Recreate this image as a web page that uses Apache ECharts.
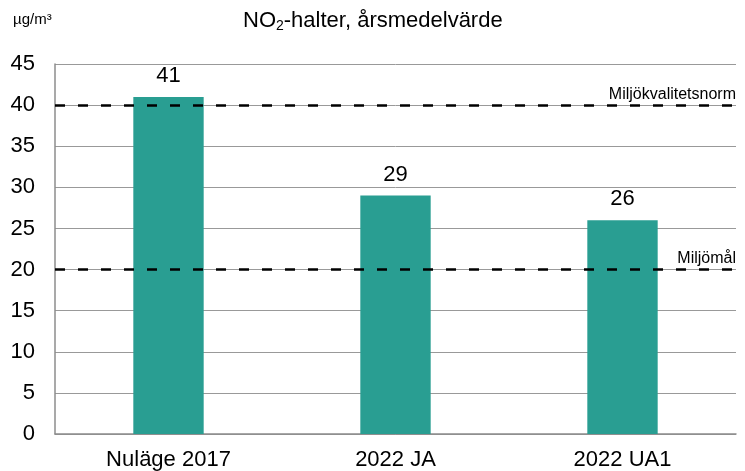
<!DOCTYPE html>
<html>
<head>
<meta charset="utf-8">
<script src="https://cdn.jsdelivr.net/npm/echarts@6/dist/echarts.min.js"></script>
<style>html,body{margin:0;padding:0;background:#fff}#c{width:745px;height:471px}</style>
</head>
<body>
<div id="c"></div>
<script>
const categories = ['Nuläge 2017', '2022 JA', '2022 UA1'];
const values = [41, 29, 26];
const refLines = [
  { name: 'Miljökvalitetsnorm', value: 40 },
  { name: 'Miljömål', value: 20 }
];
const yTicks = { min: 0, max: 45, interval: 5 };

const chart = echarts.init(document.getElementById('c'), null, { renderer: 'canvas' });
const font = 'Arial, "Liberation Sans", sans-serif';
chart.setOption({
  animation: false,
  textStyle: { fontFamily: font },
  graphic: [
    { type: 'text', left: 13, top: 12, style: { text: 'µg/m³', fontSize: 15, fill: '#000', fontFamily: font } },
    { type: 'text', left: 243, top: 10, style: {
      text: '{a|NO}{s|2}{a|-halter, årsmedelvärde}',
      rich: { a: { fontSize: 22, fill: '#000', fontFamily: font }, s: { fontSize: 14, fill: '#000', fontFamily: font, padding: [10, 0, 0, 0] } },
      fontFamily: font
    } }
  ],
  grid: { left: 55, right: 9, top: 64, bottom: 37 },
  xAxis: {
    type: 'category',
    data: categories,
    axisLine: { lineStyle: { color: '#8c8c8c', width: 1.5 } },
    axisTick: { show: false },
    axisLabel: { color: '#000', fontSize: 22, margin: 15, fontFamily: font }
  },
  yAxis: {
    type: 'value',
    min: yTicks.min, max: yTicks.max, interval: yTicks.interval,
    axisLine: { show: true, lineStyle: { color: '#8c8c8c', width: 1.5 } },
    axisTick: { show: false },
    axisLabel: { color: '#000', fontSize: 22, margin: 20, fontFamily: font },
    splitLine: { lineStyle: { color: '#999999', width: 1 } }
  },
  series: [{
    type: 'bar',
    data: values,
    barWidth: '31%',
    itemStyle: { color: '#299e92' },
    label: { show: true, position: 'top', distance: 10, color: '#000', fontSize: 22, fontFamily: font },
    markLine: {
      silent: true,
      symbol: 'none',
      lineStyle: { color: '#000', type: [10, 13], width: 2.5 },
      label: { show: true, position: 'insideEndTop', color: '#000', fontSize: 16, fontFamily: font, distance: [0, 3], formatter: p => p.name },
      data: refLines.map(r => ({ name: r.name, yAxis: r.value }))
    }
  }]
});
</script>
</body>
</html>
